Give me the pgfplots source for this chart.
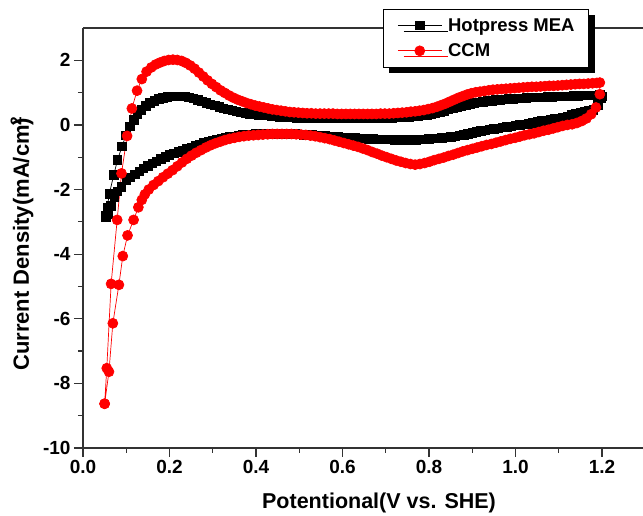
\documentclass[border=0pt]{standalone}
\usepackage{fontspec}
\setmainfont{Liberation Sans}
\usepackage{pgfplots}
\pgfplotsset{compat=1.18}
\usetikzlibrary{shadows}
\begin{document}
\begin{tikzpicture}
\path[use as bounding box] (-83pt,-68pt) rectangle (560pt,448pt);
\begin{axis}[
 at={(0pt,0pt)}, anchor=south west,
 scale only axis, width=562.25pt, height=420pt,
 xmin=0, xmax=1.3, ymin=-10, ymax=3,
 clip=false,
 axis x line*=bottom, axis y line*=left,
 axis line style={-, line width=1.2pt, color=black!80},
 xtick={0,0.2,0.4,0.6,0.8,1.0,1.2}, minor xtick={0.1,0.3,0.5,0.7,0.9,1.1},
 ytick={-10,-8,-6,-4,-2,0,2}, minor ytick={-9,-7,-5,-3,-1,1},
 tick align=outside,
 major tick length=9pt, minor tick length=5pt,
 tick style={line width=1.2pt, color=black!80},
 xticklabel style={/pgf/number format/.cd, fixed, fixed zerofill, precision=1, assume math mode=true},
 yticklabel style={/pgf/number format/assume math mode=true},
 ticklabel style={font=\fontsize{19}{20}\selectfont\bfseries},
 xlabel={Potentional(V vs. SHE)},
 xlabel style={at={(0.5265,0)}, yshift=-55pt, anchor=center, font=\fontsize{21.5}{24}\selectfont\bfseries},
 ylabel={Current Density(mA/cm\rlap{\textsuperscript{2}})},
 ylabel style={at={(-0.1085,0.485)}, anchor=center, font=\fontsize{22}{24}\selectfont\bfseries},
 legend cell align=left,
 legend style={at={(0.5336,1.0452)}, anchor=north west, draw=black, line width=0.8pt, fill=white,
   drop shadow={shadow xshift=6pt, shadow yshift=-6pt, opacity=1, fill=black},
   font=\fontsize{18.5}{20}\selectfont\bfseries,
   inner xsep=14pt, inner ysep=7pt, column sep=6pt, row sep=7pt,
   nodes={inner xsep=0pt, inner ysep=2pt}},
 legend image code/.code={\draw[mark repeat=2,mark phase=2] plot coordinates {(0pt,0pt) (22pt,0pt) (44pt,0pt)};},
]
\addplot[black, line width=0.7pt, mark=square*, mark size=4.25pt, mark options={solid, fill=black}] table {
x y
0.052 -2.80
0.056 -2.55
0.061 -2.13
0.071 -1.55
0.080 -1.08
0.090 -0.67
0.099 -0.33
0.108 -0.05
0.117 0.15
0.126 0.33
0.135 0.47
0.145 0.59
0.155 0.68
0.165 0.75
0.175 0.80
0.185 0.84
0.195 0.87
0.205 0.88
0.215 0.89
0.225 0.89
0.235 0.88
0.245 0.85
0.255 0.82
0.265 0.78
0.275 0.73
0.285 0.68
0.295 0.64
0.305 0.60
0.315 0.56
0.325 0.52
0.335 0.48
0.345 0.45
0.355 0.42
0.365 0.39
0.375 0.37
0.385 0.35
0.395 0.33
0.405 0.31
0.415 0.30
0.425 0.29
0.435 0.27
0.445 0.26
0.455 0.25
0.465 0.24
0.475 0.24
0.485 0.23
0.495 0.22
0.505 0.22
0.515 0.21
0.525 0.21
0.535 0.21
0.545 0.20
0.555 0.20
0.565 0.20
0.575 0.20
0.585 0.20
0.595 0.20
0.605 0.20
0.615 0.20
0.625 0.20
0.635 0.20
0.645 0.20
0.655 0.20
0.665 0.21
0.675 0.21
0.685 0.21
0.695 0.21
0.705 0.22
0.715 0.22
0.725 0.23
0.735 0.23
0.745 0.24
0.755 0.25
0.765 0.26
0.775 0.28
0.785 0.29
0.795 0.31
0.805 0.34
0.815 0.37
0.825 0.40
0.835 0.44
0.845 0.48
0.855 0.52
0.865 0.56
0.875 0.59
0.885 0.62
0.895 0.65
0.905 0.68
0.915 0.70
0.925 0.72
0.935 0.74
0.945 0.75
0.955 0.77
0.965 0.78
0.975 0.79
0.985 0.80
0.995 0.81
1.005 0.82
1.015 0.83
1.025 0.84
1.035 0.85
1.045 0.85
1.055 0.86
1.065 0.86
1.075 0.87
1.085 0.87
1.095 0.88
1.105 0.88
1.115 0.89
1.125 0.89
1.135 0.90
1.145 0.90
1.155 0.91
1.165 0.91
1.175 0.92
1.185 0.92
1.195 0.93
1.200 0.88
1.198 0.83
1.190 0.62
1.180 0.46
1.170 0.43
1.160 0.40
1.150 0.37
1.140 0.34
1.130 0.31
1.120 0.27
1.110 0.24
1.100 0.21
1.090 0.19
1.080 0.17
1.070 0.14
1.060 0.12
1.050 0.09
1.040 0.06
1.030 0.04
1.020 0.02
1.010 0.00
1.000 -0.02
0.990 -0.04
0.980 -0.06
0.970 -0.08
0.960 -0.10
0.950 -0.12
0.940 -0.14
0.930 -0.17
0.920 -0.19
0.910 -0.22
0.900 -0.25
0.890 -0.28
0.880 -0.31
0.870 -0.33
0.860 -0.35
0.850 -0.37
0.840 -0.39
0.830 -0.40
0.820 -0.41
0.810 -0.42
0.800 -0.43
0.790 -0.44
0.780 -0.45
0.770 -0.46
0.760 -0.46
0.750 -0.46
0.740 -0.46
0.730 -0.46
0.720 -0.46
0.710 -0.45
0.700 -0.45
0.690 -0.44
0.680 -0.44
0.670 -0.43
0.660 -0.43
0.650 -0.42
0.640 -0.41
0.630 -0.40
0.620 -0.40
0.610 -0.39
0.600 -0.38
0.590 -0.37
0.580 -0.36
0.570 -0.35
0.560 -0.34
0.550 -0.33
0.540 -0.32
0.530 -0.31
0.520 -0.30
0.510 -0.30
0.500 -0.29
0.490 -0.28
0.480 -0.28
0.470 -0.27
0.460 -0.27
0.450 -0.27
0.440 -0.27
0.430 -0.27
0.420 -0.27
0.410 -0.27
0.400 -0.28
0.390 -0.29
0.380 -0.30
0.370 -0.31
0.360 -0.33
0.350 -0.35
0.340 -0.37
0.330 -0.40
0.320 -0.43
0.310 -0.46
0.300 -0.49
0.290 -0.52
0.280 -0.56
0.270 -0.60
0.260 -0.64
0.250 -0.69
0.240 -0.73
0.230 -0.78
0.220 -0.83
0.210 -0.88
0.200 -0.93
0.190 -0.99
0.180 -1.05
0.170 -1.12
0.160 -1.19
0.150 -1.26
0.140 -1.35
0.130 -1.44
0.120 -1.53
0.110 -1.62
0.100 -1.72
0.089 -1.91
0.080 -2.05
0.072 -2.22
0.064 -2.50
0.057 -2.75
0.053 -2.86
};
\addlegendentry{Hotpress MEA}
\addplot[red, line width=0.7pt, mark=*, mark size=5pt, mark options={solid, fill=red}] table {
x y
0.050 -8.63
0.055 -7.53
0.065 -4.92
0.079 -2.94
0.089 -1.50
0.102 -0.34
0.113 0.51
0.125 1.06
0.136 1.42
0.147 1.65
0.158 1.78
0.168 1.87
0.178 1.93
0.188 1.98
0.198 2.01
0.208 2.02
0.218 2.01
0.228 1.98
0.238 1.92
0.248 1.84
0.258 1.74
0.268 1.62
0.278 1.50
0.288 1.38
0.298 1.27
0.308 1.17
0.318 1.07
0.328 0.99
0.338 0.91
0.348 0.84
0.358 0.78
0.368 0.73
0.378 0.68
0.388 0.64
0.398 0.60
0.408 0.57
0.418 0.54
0.428 0.51
0.438 0.48
0.448 0.46
0.458 0.44
0.468 0.42
0.478 0.40
0.488 0.39
0.498 0.38
0.508 0.37
0.518 0.36
0.528 0.36
0.538 0.35
0.548 0.35
0.558 0.35
0.568 0.35
0.578 0.35
0.588 0.34
0.598 0.34
0.608 0.34
0.618 0.34
0.628 0.34
0.638 0.34
0.648 0.34
0.658 0.34
0.668 0.34
0.678 0.34
0.688 0.35
0.698 0.35
0.708 0.35
0.718 0.36
0.728 0.37
0.738 0.38
0.748 0.39
0.758 0.41
0.768 0.42
0.778 0.44
0.788 0.46
0.798 0.49
0.808 0.52
0.818 0.56
0.828 0.61
0.838 0.66
0.848 0.72
0.858 0.78
0.868 0.84
0.878 0.89
0.888 0.94
0.898 0.98
0.908 1.01
0.918 1.03
0.928 1.05
0.938 1.07
0.948 1.09
0.958 1.10
0.968 1.11
0.978 1.12
0.988 1.13
0.998 1.14
1.008 1.15
1.018 1.16
1.028 1.17
1.038 1.18
1.048 1.18
1.058 1.19
1.068 1.20
1.078 1.21
1.088 1.21
1.098 1.22
1.108 1.23
1.118 1.24
1.128 1.25
1.138 1.26
1.148 1.27
1.158 1.27
1.168 1.28
1.178 1.29
1.188 1.30
1.195 1.31
1.195 0.95
1.186 0.54
1.175 0.33
1.164 0.20
1.153 0.12
1.142 0.06
1.131 0.02
1.120 0.00
1.109 -0.03
1.098 -0.07
1.087 -0.11
1.076 -0.15
1.065 -0.18
1.054 -0.22
1.043 -0.26
1.032 -0.29
1.021 -0.32
1.010 -0.36
0.999 -0.40
0.988 -0.43
0.977 -0.47
0.966 -0.51
0.955 -0.55
0.944 -0.59
0.933 -0.62
0.922 -0.66
0.911 -0.70
0.900 -0.74
0.889 -0.78
0.878 -0.82
0.867 -0.87
0.856 -0.92
0.845 -0.96
0.834 -1.01
0.823 -1.05
0.812 -1.09
0.801 -1.14
0.790 -1.18
0.779 -1.21
0.768 -1.23
0.757 -1.21
0.746 -1.18
0.735 -1.14
0.724 -1.10
0.713 -1.05
0.702 -1.00
0.691 -0.95
0.680 -0.89
0.669 -0.84
0.658 -0.78
0.647 -0.73
0.636 -0.68
0.625 -0.64
0.614 -0.60
0.603 -0.56
0.592 -0.52
0.581 -0.48
0.570 -0.44
0.559 -0.41
0.548 -0.38
0.537 -0.35
0.526 -0.33
0.515 -0.31
0.504 -0.30
0.493 -0.29
0.482 -0.28
0.471 -0.28
0.460 -0.28
0.449 -0.28
0.438 -0.28
0.427 -0.29
0.416 -0.30
0.405 -0.31
0.394 -0.32
0.383 -0.33
0.372 -0.35
0.361 -0.37
0.350 -0.40
0.339 -0.43
0.328 -0.47
0.317 -0.52
0.306 -0.57
0.295 -0.63
0.284 -0.70
0.273 -0.78
0.262 -0.86
0.251 -0.95
0.240 -1.05
0.229 -1.16
0.218 -1.28
0.207 -1.40
0.196 -1.51
0.185 -1.62
0.174 -1.74
0.163 -1.86
0.152 -2.00
0.143 -2.15
0.136 -2.32
0.128 -2.55
0.117 -2.94
0.103 -3.42
0.092 -4.06
0.083 -4.95
0.069 -6.14
0.060 -7.64
0.050 -8.63
};
\addlegendentry{CCM}
\draw[line width=1.2pt, black!80] (rel axis cs:0,1) -- (rel axis cs:1,1);
\end{axis}
\end{tikzpicture}
\end{document}
